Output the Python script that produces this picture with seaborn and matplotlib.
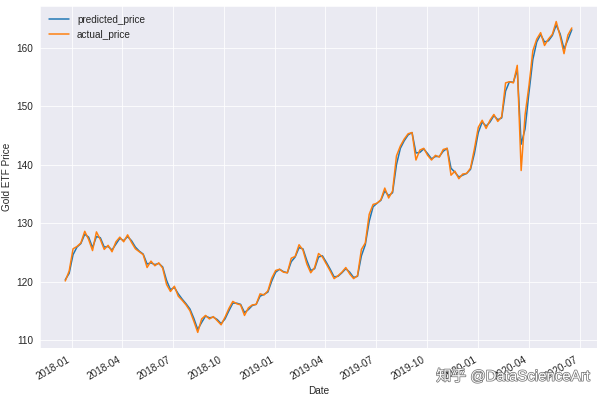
import pandas as pd
import matplotlib
matplotlib.use("Agg")
import matplotlib.pyplot as plt
import matplotlib.dates as mdates
import matplotlib.patheffects as pe
import seaborn as sns

# Weekly readings of the Gold ETF price (test period)
start_date = "2017-12-20"

actual_price = [
    120.1, 121.8, 125.6, 126.0, 126.6, 128.6, 127.2, 125.3, 128.5, 127.2,
    125.5, 126.2, 125.1, 126.8, 127.6, 126.8, 128.0, 126.7, 125.6, 125.1,
    124.6, 122.4, 123.5, 122.7, 123.2, 122.3, 119.5, 118.3, 119.2, 117.5,
    116.8, 116.0, 115.0, 113.2, 111.3, 113.6, 114.2, 113.6, 114.0, 113.3,
    112.6, 113.9, 115.4, 116.6, 116.2, 116.0, 114.2, 115.5, 116.0, 116.1,
    117.9, 117.7, 118.4, 120.6, 121.9, 122.1, 121.6, 121.5, 124.0, 124.3,
    126.3, 125.4, 123.0, 121.5, 122.4, 124.8, 124.2, 123.0, 121.8, 120.5,
    121.0, 121.6, 122.4, 121.3, 120.5, 121.0, 125.5, 126.6, 131.5, 133.2,
    133.4, 134.0, 136.0, 134.3, 135.5, 141.5, 143.2, 144.4, 145.3, 145.5,
    140.8, 142.5, 142.8, 141.6, 140.8, 141.6, 141.3, 142.6, 142.8, 138.2,
    138.9, 137.6, 138.4, 138.5, 139.4, 142.7, 146.4, 147.6, 146.2, 147.6,
    148.6, 147.4, 148.2, 154.0, 154.2, 154.0, 157.0, 139.0, 148.5, 153.5,
    159.5, 161.5, 162.6, 160.4, 161.5, 162.3, 164.5, 162.0, 159.0, 162.2,
    163.4,
]

predicted_price = [
    120.3, 121.4, 124.6, 125.9, 126.5, 128.1, 127.6, 125.8, 127.7, 127.5,
    125.9, 126.0, 125.4, 126.4, 127.4, 127.0, 127.7, 127.0, 125.9, 125.2,
    124.7, 123.0, 123.2, 122.9, 123.1, 122.5, 120.2, 118.6, 119.0, 117.9,
    117.0, 116.2, 115.3, 113.7, 111.8, 113.0, 114.1, 113.8, 113.9, 113.5,
    112.8, 113.6, 115.0, 116.3, 116.3, 116.1, 114.7, 115.2, 115.9, 116.1,
    117.5, 117.8, 118.2, 120.1, 121.6, 122.1, 121.7, 121.5, 123.4, 124.2,
    125.8, 125.6, 123.6, 121.9, 122.2, 124.2, 124.4, 123.3, 122.1, 120.8,
    120.9, 121.5, 122.2, 121.6, 120.7, 120.9, 124.4, 126.3, 130.3, 132.8,
    133.4, 133.9, 135.5, 134.7, 135.2, 140.0, 142.8, 144.1, 145.1, 145.5,
    142.0, 142.1, 142.7, 141.9, 141.0, 141.4, 141.4, 142.3, 142.8, 139.4,
    138.7, 137.9, 138.2, 138.5, 139.2, 141.9, 145.5, 147.3, 146.6, 147.3,
    148.4, 147.7, 148.0, 152.6, 154.2, 154.1, 156.3, 143.5, 146.1, 152.3,
    158.0, 161.0, 162.3, 161.0, 161.2, 162.1, 163.9, 162.4, 159.8, 161.4,
    163.1,
]

dates = pd.date_range(start_date, periods=len(actual_price), freq="7D")
df = pd.DataFrame({"Date": dates,
                   "predicted_price": predicted_price,
                   "actual_price": actual_price})

sns.set_style("darkgrid")
plt.rcParams["font.family"] = ["Liberation Sans", "Noto Sans CJK SC", "DejaVu Sans"]
plt.rcParams["font.size"] = 10

fig, ax = plt.subplots(figsize=(605 / 72, 399 / 72), dpi=72)
sns.lineplot(data=df, x="Date", y="predicted_price", color="#1f77b4",
             linewidth=1.5, label="predicted_price", ax=ax)
sns.lineplot(data=df, x="Date", y="actual_price", color="#ff7f0e",
             linewidth=1.5, label="actual_price", ax=ax)

ax.xaxis.set_major_locator(mdates.MonthLocator(bymonth=[1, 4, 7, 10]))
ax.xaxis.set_major_formatter(mdates.DateFormatter("%Y-%m"))
for lbl in ax.get_xticklabels():
    lbl.set_rotation(30)
    lbl.set_ha("right")
ax.tick_params(labelsize=10, colors=".15")

ax.set_xlabel("Date", fontsize=10, color=".15")
ax.set_ylabel("Gold ETF Price", fontsize=10, color=".15")
ax.legend(loc="upper left", frameon=False, fontsize=10)

fig.subplots_adjust(left=0.066, right=0.987, top=0.985, bottom=0.128)

# watermark from the source image
fig.text(0.975, 0.057, "知乎 @DataScienceArt", ha="right", va="center",
         fontsize=15, color="white",
         path_effects=[pe.withStroke(linewidth=1.5, foreground="#777777")])

fig.savefig("out.png", dpi=72)
